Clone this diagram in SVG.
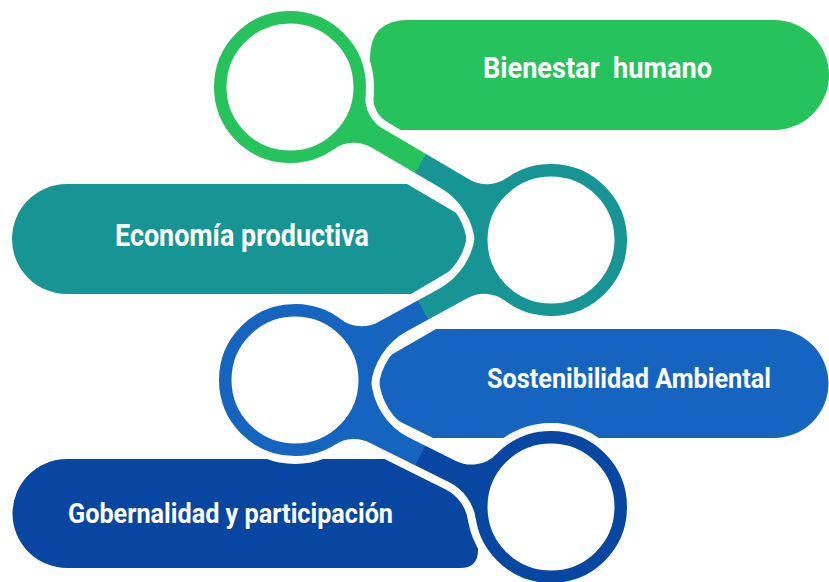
<svg xmlns="http://www.w3.org/2000/svg" width="829" height="582" viewBox="0 0 829 582">
<defs>
<linearGradient id="gr1" gradientUnits="userSpaceOnUse" x1="290" y1="87" x2="551" y2="240"><stop offset="0.5" stop-color="#26C35D"/><stop offset="0.5" stop-color="#169594"/></linearGradient>
<linearGradient id="gr2" gradientUnits="userSpaceOnUse" x1="551" y1="240" x2="295" y2="380"><stop offset="0.5" stop-color="#169594"/><stop offset="0.5" stop-color="#1565C0"/></linearGradient>
<linearGradient id="gr3" gradientUnits="userSpaceOnUse" x1="295" y1="380" x2="551" y2="507"><stop offset="0.51" stop-color="#1565C0"/><stop offset="0.51" stop-color="#0747A1"/></linearGradient>
</defs>
<style>
.gap{fill:#fff;stroke:#fff;stroke-width:16;stroke-linejoin:round}
.ringgap{fill:#fff;stroke:#fff;stroke-width:28.5}
.ring{fill:#fff;stroke-width:12.5}
.label{font-family:Roboto,"Liberation Sans",sans-serif;font-weight:bold;fill:#fff;text-anchor:middle}
</style>
<rect width="829" height="582" fill="#fff"/>
<g id="node-bienestar">
<path d="M408,20 H774 A55,55 0 0 1 774,130 H395 Q370,130 370,105 V58 Q370,20 408,20 Z" fill="#26C35D"/>
<text class="label" x="597.5" y="78" font-size="29.5" textLength="229" lengthAdjust="spacingAndGlyphs" xml:space="preserve">Bienestar  humano</text>
</g>
<g id="node-economia">
<path d="M67,184 H407 L482,228 V252 L411,294 H67 A55,55 0 0 1 67,184 Z" fill="#169594"/>
<text class="label" x="242" y="246" font-size="31" textLength="254" lengthAdjust="spacingAndGlyphs">Economía productiva</text>
</g>
<g id="node-sostenibilidad">
<path d="M436,329 H774 A54.5,54.5 0 0 1 774,438 H433 L372,407.7 V366 Z" fill="#1565C0"/>
<text class="label" x="629" y="388" font-size="28" textLength="284" lengthAdjust="spacingAndGlyphs">Sostenibilidad Ambiental</text>
</g>
<g id="node-gobernalidad">
<path d="M67,459 H478 V550 Q478,568 460,568 H67 A54.5,54.5 0 0 1 67,459 Z" fill="#0747A1"/>
<text class="label" x="230.5" y="523" font-size="28" textLength="325" lengthAdjust="spacingAndGlyphs">Gobernalidad y participación</text>
</g>
<g id="connectors">
<g id="halos">
<path class="gap" d="M290,87 L365.6,94.8 A35,35 0 0 0 382.71,128.6 L469.41,179.42 A35,35 0 0 0 507.26,177.84 L551,240 L475.13,244.39 A70,70 0 0 0 440.65,188.06 L371.59,147.58 A35,35 0 0 0 333.74,149.16 Z"/>
<path class="gap" d="M551,240 L475.29,233.35 A70,70 0 0 1 439.14,288.63 L378.36,321.88 A35,35 0 0 1 340.58,319.17 L295,380 L370.71,386.65 A70,70 0 0 1 406.86,331.37 L467.64,298.12 A35,35 0 0 1 505.42,300.83 Z"/>
<path class="gap" d="M295,380 L370.96,377.59 A70,70 0 0 0 409.82,438.08 L455.91,460.94 A35,35 0 0 0 496.55,454 L551,507 L475.94,518.91 A50,50 0 0 0 448.78,481.96 L369.56,442.66 A35,35 0 0 0 335.4,444.37 Z"/>
<circle class="ringgap" cx="290" cy="87" r="69.75"/>
<circle class="ringgap" cx="551" cy="240" r="69.75"/>
<circle class="ringgap" cx="295" cy="380" r="69.75"/>
<circle class="ringgap" cx="551" cy="507" r="69.75"/>
</g>
<g id="links">
<path id="link-1-2" fill="url(#gr1)" d="M290,87 L365.6,94.8 A35,35 0 0 0 382.71,128.6 L469.41,179.42 A35,35 0 0 0 507.26,177.84 L551,240 L475.13,244.39 A70,70 0 0 0 440.65,188.06 L371.59,147.58 A35,35 0 0 0 333.74,149.16 Z"/>
<path id="link-2-3" fill="url(#gr2)" d="M551,240 L475.29,233.35 A70,70 0 0 1 439.14,288.63 L378.36,321.88 A35,35 0 0 1 340.58,319.17 L295,380 L370.71,386.65 A70,70 0 0 1 406.86,331.37 L467.64,298.12 A35,35 0 0 1 505.42,300.83 Z"/>
<path id="link-3-4" fill="url(#gr3)" d="M295,380 L370.96,377.59 A70,70 0 0 0 409.82,438.08 L455.91,460.94 A35,35 0 0 0 496.55,454 L551,507 L475.94,518.91 A50,50 0 0 0 448.78,481.96 L369.56,442.66 A35,35 0 0 0 335.4,444.37 Z"/>
</g>
<g id="rings">
<circle class="ring" cx="290" cy="87" r="69.75" stroke="#26C35D"/>
<circle class="ring" cx="551" cy="240" r="69.75" stroke="#169594"/>
<circle class="ring" cx="295" cy="380" r="69.75" stroke="#1565C0"/>
<circle class="ring" cx="551" cy="507" r="69.75" stroke="#0747A1"/>
</g>
</g>
</svg>
